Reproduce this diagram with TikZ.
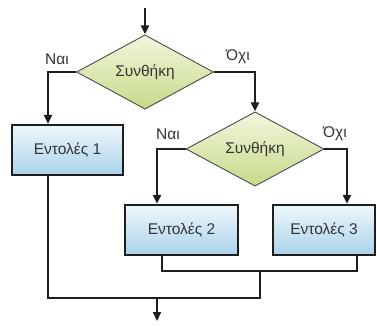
\documentclass[tikz,border=0pt]{standalone}
\usepackage{fontspec}
\setmainfont{Liberation Sans}
\usetikzlibrary{shapes.geometric,arrows.meta}
\definecolor{txt}{HTML}{353535}
\definecolor{line}{HTML}{1E1E1E}
\definecolor{boxtop}{HTML}{EEF7FC}
\definecolor{boxbot}{HTML}{A9D3EA}
\definecolor{dtop}{HTML}{F2F6DC}
\definecolor{dbot}{HTML}{C6DA8A}
\tikzset{
  flow/.style={line width=2.1pt, draw=line},
  arr/.style={flow, -{Triangle[length=9pt,width=8pt]}},
  cmd/.style={rectangle, draw=line, line width=2.1pt, top color=boxtop,
    bottom color=boxbot, minimum height=50pt, inner sep=0pt,
    font=\fontsize{15.5}{18}\selectfont, text=txt},
  cond/.style={diamond, draw=line!80, line width=0.9pt, top color=dtop,
    bottom color=dbot, inner sep=0pt, minimum width=137pt, minimum height=62pt,
    font=\fontsize{15.5}{18}\selectfont, text=txt},
  lbl/.style={font=\fontsize{15.5}{18}\selectfont, text=txt, inner sep=0pt}
}
\begin{document}
\begin{tikzpicture}[x=1pt,y=-1pt]
  \useasboundingbox (0,0) rectangle (377,325);
  % decision nodes
  \node[cond] (d1) at (145,72) {Συνθήκη};
  \node[cond, minimum width=138pt, minimum height=63pt] (d2) at (255,149) {Συνθήκη};
  % statement blocks
  \node[cmd, minimum width=111pt] (b1) at (67.5,150) {Εντολές 1};
  \node[cmd, minimum width=113pt] (b2) at (181.5,230) {Εντολές 2};
  \node[cmd, minimum width=102pt] (b3) at (324,230) {Εντολές 3};
  % branch labels
  \node[lbl] (y1) at (57,59) {Ναι};
  \node[lbl] (n1) at (238,57) {Όχι};
  \node[lbl] (y2) at (168,134) {Ναι};
  \node[lbl] (n2) at (335,134) {Όχι};
  % routing points
  \coordinate (start) at (145,8);
  \coordinate (v1) at (48,0);
  \coordinate (v2) at (157,0);
  \coordinate (v3) at (347,0);
  \coordinate (c2) at (162,271);
  \coordinate (c3) at (357,271);
  \coordinate (mid) at (260,271);
  \coordinate (join) at (260,298);
  \coordinate (left) at (48,298);
  \coordinate (exitA) at (157,298);
  \coordinate (exitB) at (157,321);
  % connectors
  \draw[arr] (start) -- (d1.north);
  \draw[arr] (d1.west) -| (b1.north -| v1);
  \draw[arr] (d1.east) -| (d2.north);
  \draw[arr] (d2.west) -| (b2.north -| v2);
  \draw[arr] (d2.east) -| (b3.north -| v3);
  \draw[flow] (b2.south -| c2) -- (c2) -- (c3) -- (b3.south -| c3);
  \draw[flow] (mid) -- (join) -- (left) -- (b1.south -| left);
  \draw[arr] (exitA) -- (exitB);
\end{tikzpicture}
\end{document}
